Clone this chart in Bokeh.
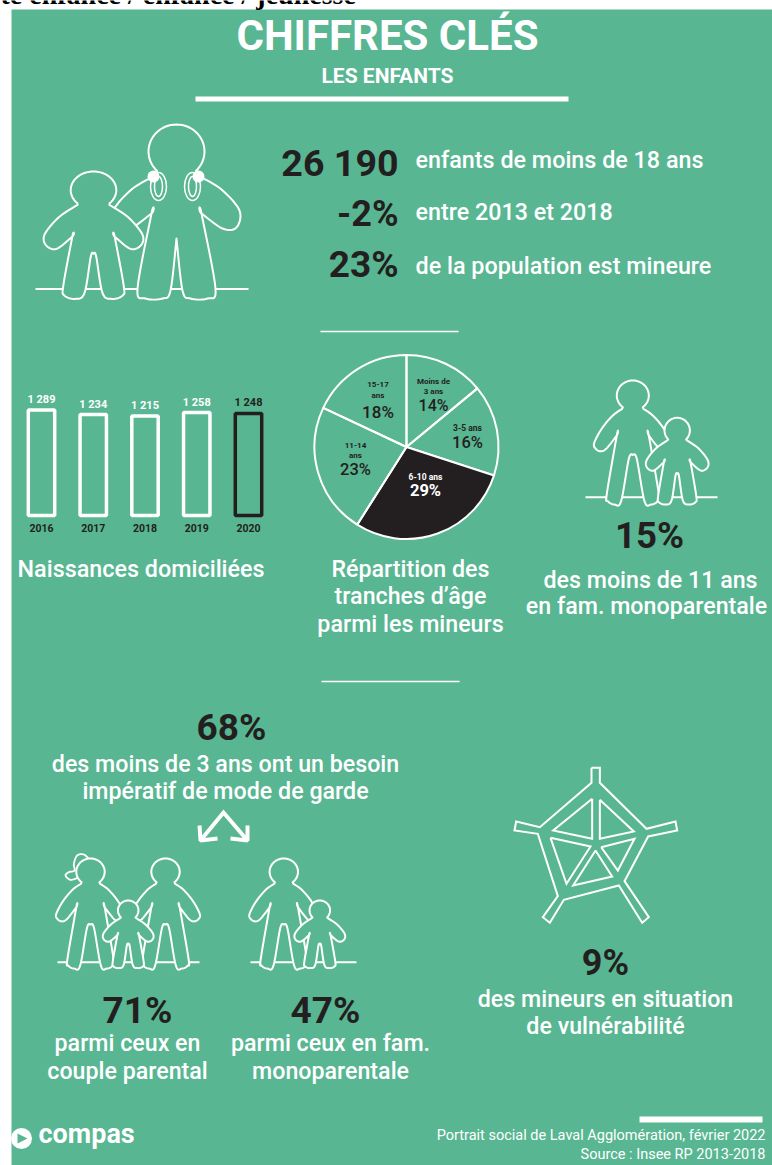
import numpy as np
from bokeh.plotting import figure
from bokeh.models import Range1d
from bokeh.core.properties import value
from bokeh.embed import file_html
from bokeh.resources import INLINE

BG = "#58B692"
DARK = "#231F20"
WHITE = "#FFFFFF"

# --- data ---
birth_years = [2016, 2017, 2018, 2019, 2020]
birth_values = [1289, 1234, 1215, 1258, 1248]
birth_labels = ["1 289", "1 234", "1 215", "1 258", "1 248"]
age_shares = [14, 16, 29, 23, 18]
age_colors = [None, None, DARK, None, None]

# --- icon shapes (half outlines: dx, dy from the head top) ---
ADULT = [(32,85),(60,105),(90,140),(112,178),(116,198),(100,212),(80,205),(48,165),(48,165),
         (78,340),(75,362),(55,372),(35,362),(12,235),(0,223)]
CHILD = [(30,68),(65,93),(92,128),(90,150),(70,158),(40,133),(40,133),
         (57,233),(55,253),(35,260),(17,248),(5,173),(0,168)]
TEEN = [(25,53),(45,65),(63,86),(60,103),(46,104),(25,89),(25,89),
        (39,164),(31,174),(14,174),(6,166),(0,114)]
PONYTAIL = [(268,178),(250,162),(230,165),(220,190),(222,210),(205,215),(195,225),(210,238),(232,232)]
WEB_OUTER = [(333,52),(358,52),(358,97),(498,235),(585,213),(590,240),(503,258),(432,392),(505,500),
             (485,517),(415,405),(250,448),(208,517),(187,500),(232,437),(172,250),(102,240),(107,213),
             (178,230),(333,97)]
WEB_INNER = [[(335,145),(335,265),(218,240)],
             [(358,148),(460,243),(358,265)],
             [(210,262),(330,288),(258,400)],
             [(362,290),(462,265),(412,360)],
             [(345,300),(395,378),(278,405)]]

p = figure(width=772, height=1165, x_range=Range1d(0, 772), y_range=Range1d(1165, 0),
           output_backend="svg", toolbar_location=None, min_border=0)
p.axis.visible = False
p.grid.visible = False
p.outline_line_color = None
p.background_fill_color = WHITE
p.border_fill_color = WHITE

px_per_year, x0 = 51.75, 41.0
px_per_birth, base = 0.0818, 515.0
p.extra_x_ranges["years"] = Range1d(2016 - x0 / px_per_year, 2016 + (772 - x0) / px_per_year)
p.extra_y_ranges["births"] = Range1d((base - 1165) / px_per_birth, base / px_per_birth)

BASE_SHIFT = 0.35
MEDIUM = "Roboto Medium"


def T(x, y, s, size, color=WHITE, align="center", bold=False, font=MEDIUM):
    if bold and font == MEDIUM:
        font = "Roboto"
    p.text([x], [y - BASE_SHIFT * size], text=[s], text_font=value(font), text_font_size=value(f"{size}px"),
           text_color=color, text_align=align, text_baseline="alphabetic",
           text_font_style="bold" if bold else "normal")


def smooth(pts, n=8):
    pts = np.array(pts, float)
    q = np.vstack([pts[0], pts, pts[-1]])
    out = []
    for i in range(1, len(q) - 2):
        a, b, c, d = q[i - 1], q[i], q[i + 1], q[i + 2]
        for t in np.linspace(0, 1, n, endpoint=False):
            out.append(0.5 * (2 * b + (c - a) * t + (2 * a - 5 * b + 4 * c - d) * t ** 2
                              + (3 * b - a - 3 * c + d) * t ** 3))
    out.append(pts[-1])
    return np.array(out)


def person(cx, top, half, rx, ry, sx, sy=None):
    sy = sy or sx
    body = smooth(half)
    theta = np.arctan2(half[0][0], -(half[0][1] - ry))
    th = np.linspace(0, theta, 24)
    head = np.column_stack([rx * np.sin(th), ry - ry * np.cos(th)])
    right = np.vstack([head, body])
    left = right[::-1] * [-1, 1]
    path = np.vstack([right, left])
    p.patch(cx + path[:, 0] * sx, top + path[:, 1] * sy, fill_color=BG, line_color=WHITE,
            line_width=2, line_join="round")


def ground(x1, x2, y):
    p.line([x1, x2], [y, y], line_color=WHITE, line_width=2)


# background
p.quad(left=[11], right=[772], top=[9], bottom=[1165], fill_color=BG, line_color=None)
T(0, 4, "te enfance / enfance / jeunesse", 28, "#000000", "left", True, "Liberation Serif")

# header
T(387, 49.5, "CHIFFRES CLÉS", 42, WHITE, "center", True)
T(387, 83, "LES ENFANTS", 21, WHITE, "center", True)
p.quad(left=[195], right=[568], top=[96], bottom=[101], fill_color=WHITE, line_color=None)

# first icon
ground(35, 248, 288.5)
person(176, 124, TEEN, 28, 27, 1)
p.ellipse([158, 192], [186, 186], width=16, height=28, fill_color=None, line_color=WHITE, line_width=1.5)
p.ellipse([158, 192], [186, 186], width=8, height=20, fill_color=None, line_color=WHITE, line_width=1.5)
p.ellipse([153, 198], [176, 176], width=12, height=12, fill_color=WHITE, line_color=None)
person(93, 171, CHILD, 43, 38, 0.53, 0.49)

# key figures
T(398, 176, "26 190", 37.6, DARK, "right", True)
T(398, 226.5, "-2%", 36, DARK, "right", True)
T(398, 277, "23%", 37, DARK, "right", True)
T(415, 168, "enfants de moins de 18 ans", 23.3, WHITE, "left")
T(415, 220, "entre 2013 et 2018", 23.3, WHITE, "left")
T(415, 274, "de la population est mineure", 23.3, WHITE, "left")

p.line([320, 458], [331, 331], line_color=WHITE, line_width=1.5)
p.line([321, 459], [681, 681], line_color=WHITE, line_width=1.5)

# bars
bar_colors = [WHITE, WHITE, WHITE, WHITE, DARK]
p.vbar(x=birth_years, top=birth_values, bottom=0, width=0.51, fill_color=None, line_color=bar_colors,
       line_width=3.5, x_range_name="years", y_range_name="births")
p.text(birth_years, birth_values, text=birth_labels, text_font=value("Roboto"), text_font_size=value("11px"),
       text_font_style="bold", text_color=bar_colors, text_align="center", text_baseline="alphabetic",
       y_offset=-10.5, x_range_name="years", y_range_name="births")
p.text(birth_years, [-154] * 5, text=[str(y) for y in birth_years], text_font=value("Roboto"),
       text_font_size=value("10.5px"), text_font_style="bold", text_color=DARK, text_align="center",
       text_baseline="alphabetic", x_range_name="years", y_range_name="births")
T(17, 576.5, "Naissances domiciliées", 23.3, WHITE, "left")

# pie
cum = np.cumsum([0] + age_shares) / 100 * 2 * np.pi
starts = np.pi / 2 - cum[:-1]
ends = np.pi / 2 - cum[1:]
for s, e, c in zip(starts, ends, age_colors):
    p.wedge([406], [446.5], radius=92, start_angle=s, end_angle=e, direction="clock",
            fill_color=c, line_color=WHITE, line_width=2)
for x, y, s, z, c in [
    (433, 384, "Moins de", 8, DARK), (433, 394, "3 ans", 8, DARK), (433, 411, "14%", 16, DARK),
    (467, 430, "3-5 ans", 8.5, DARK), (467, 448, "16%", 16.5, DARK),
    (425, 479, "6-10 ans", 8.5, WHITE), (425, 496, "29%", 16.5, WHITE),
    (355, 447.5, "11-14", 8, DARK), (355, 457.5, "ans", 8, DARK), (355, 475, "23%", 16.5, DARK),
    (377.5, 387, "15-17", 8, DARK), (377.5, 398, "ans", 8, DARK), (377.5, 417, "18%", 17, DARK),
]:
    T(x, y, s, z, c, "center", z < 12 or c == WHITE)
T(410, 577, "Répartition des", 23.2)
T(410, 604, "tranches d’âge", 23.2)
T(410, 632, "parmi les mineurs", 23.2)

# right icon
ground(585, 717, 496.7)
person(632.3, 380, ADULT, 48, 45, 1 / 3)
person(676.7, 417.3, CHILD, 38, 38, 1 / 3)
T(649, 548, "15%", 36.6, DARK, "center", True)
T(650, 587.5, "des moins de 11 ans", 23.2)
T(646, 614, "en fam. monoparentale", 23.2)

# lower left
T(231, 740, "68%", 37, DARK, "center", True)
T(225, 772, "des moins de 3 ans ont un besoin", 23.2)
T(225, 799, "impératif de mode de garde", 23.2)
p.line([200, 223, 247], [840, 812, 840], line_color=WHITE, line_width=4, line_join="miter")
p.line([199, 200, 217], [825, 840, 838], line_color=WHITE, line_width=4)
p.line([230, 247, 247], [838, 840, 825], line_color=WHITE, line_width=4)

ground(57, 199, 961.7)
pony = smooth(PONYTAIL)
p.line(pony[:, 0] / 3, 800 + pony[:, 1] / 3, line_color=WHITE, line_width=1.8)
k = 0.296
person(90, 858, ADULT, 48, 45, k)
person(165, 858, ADULT, 48, 45, k)
person(127.7, 900, CHILD, 38, 38, 0.27, 0.26)
ground(250, 356, 961.7)
person(283.3, 858, ADULT, 48, 45, k)
person(319.3, 900, CHILD, 38, 38, 0.27, 0.26)

T(137, 1023, "71%", 37, DARK, "center", True)
T(127, 1051, "parmi ceux en", 23.2)
T(127, 1079, "couple parental", 23.2)
T(325, 1023, "47%", 37, DARK, "center", True)
T(330, 1051, "parmi ceux en fam.", 23.2)
T(330, 1079, "monoparentale", 23.2)

# web icon
for poly in [WEB_OUTER] + WEB_INNER:
    a = np.array(poly + [poly[0]], float)
    p.line(480 + a[:, 0] / 3, 750 + a[:, 1] / 3, line_color=WHITE, line_width=2, line_join="miter")
T(605, 975, "9%", 36, DARK, "center", True)
T(605, 1007, "des mineurs en situation", 23.2)
T(605, 1034, "de vulnérabilité", 23.2)

# footer
p.quad(left=[639], right=[762], top=[1116], bottom=[1122], fill_color=WHITE, line_color=None)
T(765, 1140, "Portrait social de Laval Agglomération, février 2022", 14.5, WHITE, "right", False, "Roboto")
T(765, 1159, "Source : Insee RP 2013-2018", 14.5, WHITE, "right", False, "Roboto")
p.circle([21], [1138], radius=10.5, fill_color=WHITE, line_color=None)
p.patch([17, 17, 27], [1133, 1143, 1138], fill_color=BG, line_color=None)
T(38, 1143, "compas", 27, WHITE, "left", True, "Roboto")

open("out.html", "w").write(file_html(p, INLINE))
